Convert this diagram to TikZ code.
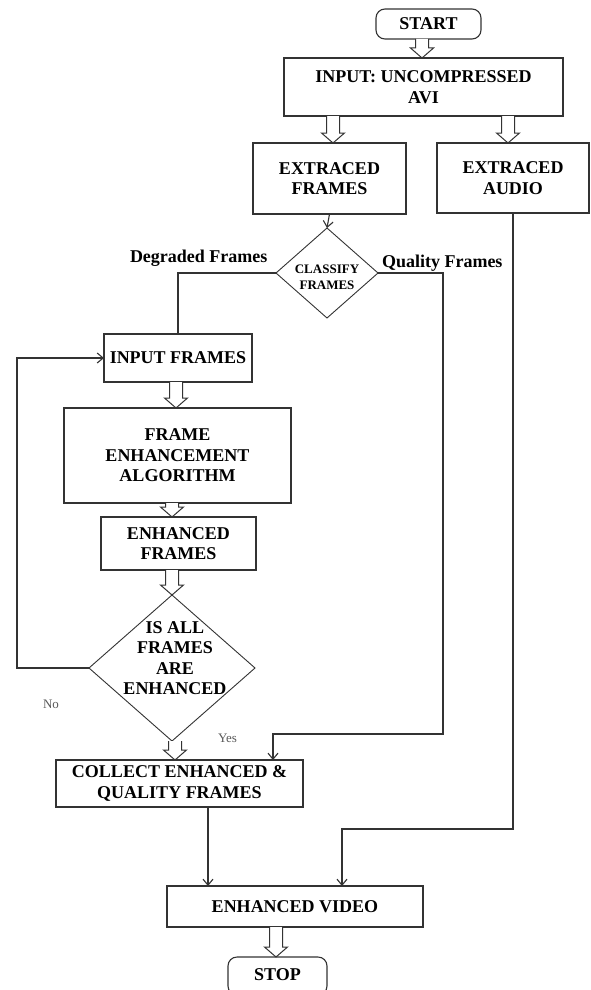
\documentclass[tikz,border=0pt]{standalone}
\usepackage{fontspec}
\setmainfont{Liberation Serif}
\usetikzlibrary{calc,shapes.geometric,arrows.meta}
\tikzset{
  every node/.style={inner sep=0pt, outer sep=0pt},
  bigtxt/.style={font=\fontsize{18}{20.5}\selectfont\bfseries, align=center, text=black},
  box/.style={draw=black!80, line width=1.1pt, rectangle, bigtxt},
  term/.style={draw=black!80, line width=1.1pt, rectangle, rounded corners=9pt, bigtxt},
  dia/.style={draw=black!80, line width=0.9pt, diamond},
  conn/.style={draw=black!80, line width=1.1pt, -{Straight Barb[length=6pt,width=10pt]}},
  plain/.style={draw=black!80, line width=1.1pt},
  blockar/.style={draw=black!80, line width=1pt, fill=white, line join=miter},
  lbl/.style={font=\fontsize{18}{20}\selectfont\bfseries, text=black},
  small/.style={font=\fontsize{13}{15}\selectfont, text=black!65},
}
\newcommand\blkarrow[2]{\draw[blockar] let \p1=#1, \p2=#2 in
  (\x1-6.5pt,\y1) -- (\x1-6.5pt,\y2+10pt) -- (\x1-11.5pt,\y2+10pt) -- (\x1,\y2)
  -- (\x1+11.5pt,\y2+10pt) -- (\x1+6.5pt,\y2+10pt) -- (\x1+6.5pt,\y1);}
\begin{document}
\begin{tikzpicture}[x=1pt,y=-1pt]
\useasboundingbox[fill=white] (0,0) rectangle (591,990);
% nodes
\node[term, minimum width=105pt, minimum height=30pt] (start) at (428.5,24) {START};
\node[box, minimum width=279pt, minimum height=58pt] (input) at (423.5,87) {INPUT: UNCOMPRESSED\\AVI};
\node[box, minimum width=153pt, minimum height=71pt] (frames) at (329.5,178.5) {EXTRACED\\FRAMES};
\node[box, minimum width=152pt, minimum height=70pt] (audio) at (513,178) {EXTRACED\\AUDIO};
\node[dia, minimum width=102pt, minimum height=90pt] (classify) at (327,273) {};
\node[font=\fontsize{13}{16}\selectfont\bfseries, align=center] (classifyt) at (327,277) {CLASSIFY\\FRAMES};
\node[lbl, anchor=base west] (degr) at (130,262) {Degraded Frames};
\node[lbl, anchor=base west] (qual) at (382,267) {Quality Frames};
\node[box, minimum width=148pt, minimum height=48pt] (inputf) at (178,358) {INPUT FRAMES};
\node[box, minimum width=227pt, minimum height=95pt] (enh) at (177.5,455.5) {FRAME\\ENHANCEMENT\\ALGORITHM};
\node[box, minimum width=155pt, minimum height=53pt] (enhf) at (178.5,543.5) {ENHANCED\\FRAMES};
\node[dia, minimum width=166pt, minimum height=146pt] (isall) at (172,668) {};
\node[bigtxt] (isallt) at (175,658) {IS ALL\\FRAMES\\ARE\\ENHANCED};
\node[small, anchor=base west] (no) at (43,708) {No};
\node[small, anchor=base west] (yes) at (218,742) {Yes};
\node[box, minimum width=247pt, minimum height=47pt] (collect) at (179.5,783.5) {COLLECT ENHANCED \&\\QUALITY FRAMES};
\node[box, minimum width=256pt, minimum height=41pt] (video) at (295,906.5) {ENHANCED VIDEO};
\node[term, minimum width=99pt, minimum height=38pt] (stop) at (277.5,976) {\raisebox{3pt}{STOP}};
% coordinates for connectors
\coordinate (qx) at (443,0);
\coordinate (qy) at (0,734);
\coordinate (lx) at (17,0);
\coordinate (ax) at (0,829);
\coordinate (cx) at (273,0);
\coordinate (vx) at (342,0);
% line connectors
\draw[conn] (frames.south) -- (classify.north);
\draw[plain] (classify.west) -- (classify.west -| inputf.north) -- (inputf.north);
\draw[conn] (classify.east) -- (classify.east -| qx) -- (qx |- qy) -- (cx |- qy) -- (cx |- collect.north);
\draw[conn] (isall.west) -- (isall.west -| lx) -- (lx |- inputf.west) -- (inputf.west);
\draw[conn] (collect.south -| 208,0) -- (video.north -| 208,0);
\draw[conn] (audio.south) -- (audio.south |- ax) -- (vx |- ax) -- (vx |- video.north);
% block arrows
\blkarrow{(start.south -| 422,0)}{(input.north)}
\blkarrow{(input.south -| 333,0)}{(frames.north)}
\blkarrow{(input.south -| 508,0)}{(audio.north)}
\blkarrow{(inputf.south -| 176,0)}{(enh.north)}
\blkarrow{(enh.south -| 172,0)}{(enhf.north)}
\blkarrow{(enhf.south -| 172,0)}{(isall.north)}
\blkarrow{(isall.south -| 175,0)}{(collect.north)}
\blkarrow{(video.south -| 276,0)}{(stop.north)}
\end{tikzpicture}
\end{document}
